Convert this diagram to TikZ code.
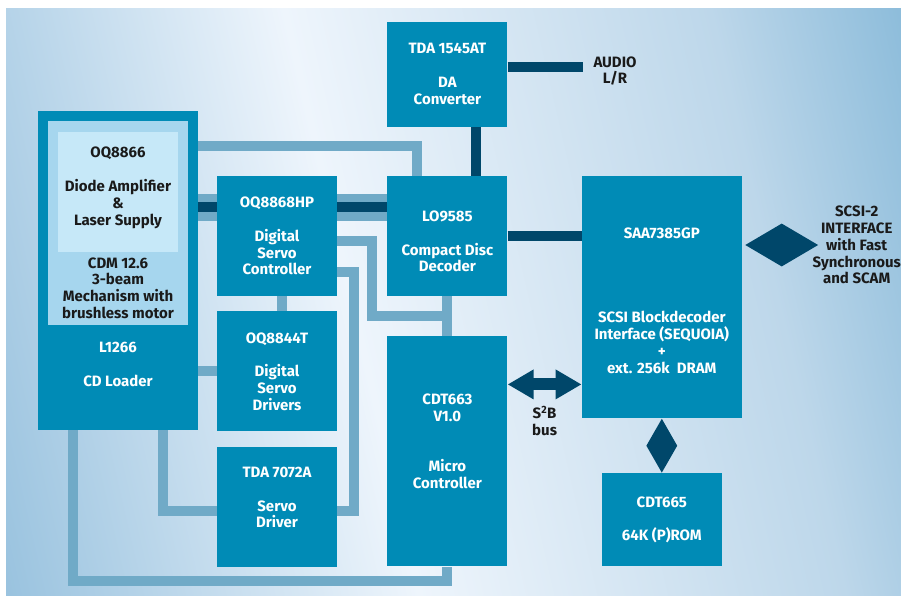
\documentclass[tikz,border=0pt]{standalone}
\usepackage{fontspec}
\setmainfont{Fira Sans}
\usetikzlibrary{arrows.meta, positioning, shapes.geometric, calc}
\definecolor{chipblue}{HTML}{008BB6}
\definecolor{mechblue}{HTML}{A6D6EE}
\definecolor{headblue}{HTML}{C6E8F8}
\definecolor{wirelight}{HTML}{70AAC7}
\definecolor{wiredark}{HTML}{00476A}
\definecolor{bgdark}{HTML}{9AC3DF}
\definecolor{bglight}{HTML}{EEF5FC}
\definecolor{bgmid}{HTML}{BDD7EA}
\definecolor{bgright}{HTML}{8EBDDB}
\definecolor{inktext}{HTML}{1A1A1A}
\pgfdeclarehorizontalshading{bgfade}{100bp}{color(0bp)=(bgdark); color(20bp)=(bgdark); color(44bp)=(bglight); color(69bp)=(bgmid); color(80bp)=(bgright); color(100bp)=(bgright)}

\begin{document}
\begin{tikzpicture}[
    x=1pt, y=-1pt,
    font=\fontsize{15}{16.8}\selectfont\bfseries,
    chip/.style={fill=chipblue, text=white, align=center, inner sep=0pt, minimum width=120pt, minimum height=120pt},
    wire/.style={line width=10pt, color=wirelight},
    bus/.style={line width=27pt, color=wirelight, postaction={draw=wiredark, line width=10pt}},
    link/.style={line width=10pt, color=wiredark},
    duplex/.style={{Triangle[width=28pt,length=26pt]}-{Triangle[width=28pt,length=26pt]}, line width=12pt, color=wiredark},
    kite/.style={diamond, fill=wiredark, inner sep=0pt},
    tag/.style={align=center, inner sep=0pt, text=inktext},
]

% Background
\useasboundingbox (0,0) rectangle (901,595);
\shade[shading=bgfade, shading angle=13] (6,8) rectangle (901,595);

% Loader and mechanism
\node[chip, minimum width=160pt, minimum height=319pt] (l1266) at (118,270.5) {};
\node[fill=mechblue, inner sep=0pt, minimum width=140pt, minimum height=204pt] (cdm) at (118,223) {};
\node[fill=headblue, tag, minimum width=120pt, minimum height=120pt] (oq8866) at (118,192) {OQ8866\\[16.8pt]Diode Amplifier\\\&\\Laser Supply\\[-5pt]~};
\node[tag, below=5pt of oq8866] (cdmtxt) {CDM 12.6\\3-beam\\Mechanism with\\brushless motor};
\node[tag, text=white, below=17pt of cdm] (l1266txt) {L1266\\[16.8pt]CD Loader};

% Chips
\node[chip] (dsc) at (277,236) {OQ8868HP\\[16.8pt]Digital\\Servo\\Controller};
\node[chip, right=50pt of dsc] (dec) {~\\[5pt]LO9585\\[16.8pt]Compact Disc\\Decoder};
\node[chip, minimum height=105pt, above=49pt of dec] (dac) {TDA 1545AT\\[16.8pt]DA\\Converter};
\node[chip, below=15pt of dsc] (drv) {OQ8844T\\[16.8pt]Digital\\Servo\\Drivers};
\node[chip, below=15pt of drv] (srv) {TDA 7072A\\[16.8pt]Servo\\Driver\\[2pt]~};
\node[chip, minimum height=230pt, below=40pt of dec] (mcu) {CDT663\\V1.0\\[33.6pt]Micro\\Controller\\[4pt]~};
\node[chip, minimum width=160pt, minimum height=242pt, right=74pt of dec.north east, anchor=north west] (saa) {~\\[1.5pt]SAA7385GP\\[67.2pt]SCSI Blockdecoder\\Interface (SEQUOIA)\\+\\ext. 256k~~DRAM};
\node[chip, minimum height=93pt, below=55pt of saa] (rom) {CDT665\\[16.8pt]64K (P)ROM};

% Outside labels
\node[tag] (audio) at (615,71) {AUDIO\\L/R};
\node[kite, minimum width=73pt, minimum height=43pt, right=3pt of saa.east, yshift=52pt] (scsi) {};
\node[tag] (scsitxt) at ([xshift=75pt]scsi.center) {SCSI-2\\INTERFACE\\with Fast\\Synchronous\\and SCAM};
\node[kite, minimum width=31pt, minimum height=54pt] (romlink) at ($(saa.south)!0.5!(rom.north)$) {};

% Light wires
\draw[wire] ([yshift=-35pt]l1266.north east) -| ([xshift=-30pt]dec.north);
\coordinate (busl) at ([yshift=29pt]dsc.west);
\coordinate (busr) at ([yshift=29pt]dsc.east);
\draw[bus] (busl -| l1266.east) -- (busl);
\draw[bus] (busr) -- (busr -| dec.west);
\draw[wire] (dec.south) -- (mcu.north);
\draw[wire] ([yshift=-5pt]dsc.east) -- ++(35pt,0) |- ($(dec.south)!0.5!(mcu.north)$);
\draw[wire] ([yshift=-36pt]dsc.east) -- ++(17pt,0) |- ([yshift=-4pt]srv.east);
\draw[wire] ([xshift=5pt]dsc.south) -- ([xshift=5pt]drv.north);
\draw[wire] (drv.west -| l1266.east) -- (drv.west);
\draw[wire] ([xshift=45pt]l1266.south) |- ([yshift=-4pt]srv.west);
\draw[wire] ([xshift=-45pt]l1266.south) |- ([yshift=-14pt]mcu.south) -- (mcu.south);

% Dark links
\draw[link] ([xshift=29pt]dac.south) -- ([xshift=29pt]dec.north);
\coordinate (audioin) at ([xshift=-10pt,yshift=4pt]audio.west);
\draw[link] (audioin -| dac.east) -- (audioin);
\draw[link] (dec.east) -- (dec.east -| saa.west);
\draw[duplex] ([yshift=67pt]mcu.east) -- ([yshift=67pt]mcu.east -| saa.west) node[midway, below=16pt, tag] (s2b) {S\textsuperscript{2}B\\bus};

\end{tikzpicture}
\end{document}
